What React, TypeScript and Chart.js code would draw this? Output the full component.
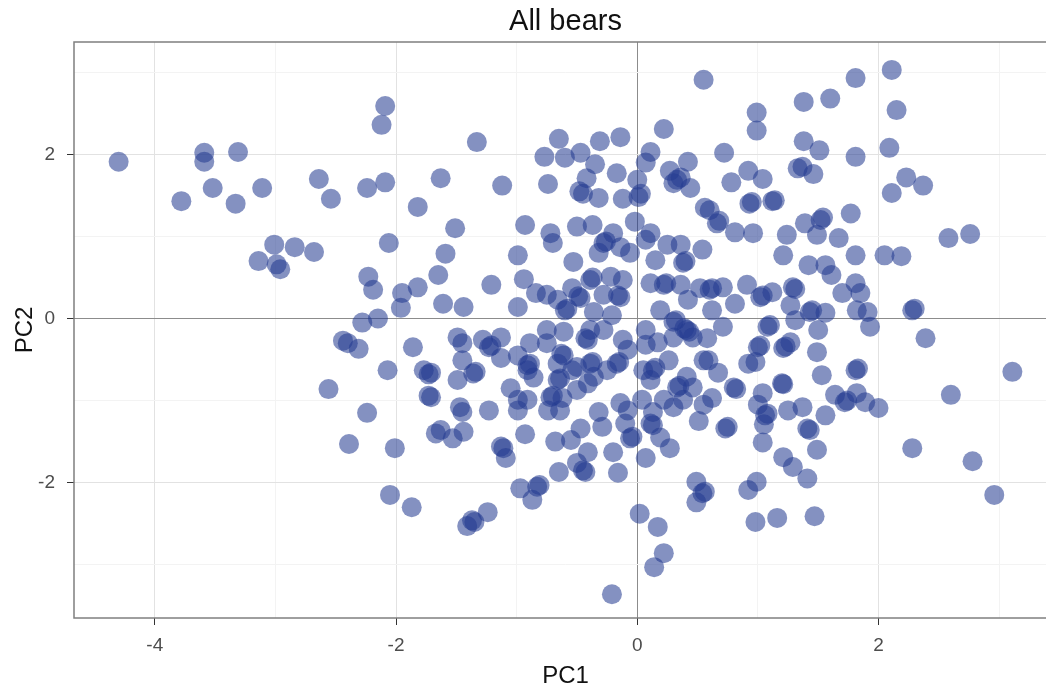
import { useEffect, useRef } from "react";
import { Chart, registerables } from "chart.js";

Chart.register(...registerables);

// ---- labels ----
const chartTitle = "All bears";
const xAxisTitle = "PC1";
const yAxisTitle = "PC2";
const xLabelTicks = [-4, -2, 0, 2];
const yLabelTicks = [-2, 0, 2];
const xRange = [-4.67, 3.48];
const yRange = [-3.65, 3.37];

// ---- PC scores [PC1, PC2], grouped by region of the plot ----
const westScores: [number, number][] = [
  [-4.30, 1.91], [-3.59, 2.02], [-3.59, 1.91], [-3.31, 2.03], [-3.78, 1.43], [-3.52, 1.59],
  [-3.33, 1.40], [-3.11, 1.59], [-2.64, 1.70], [-2.54, 1.46], [-2.24, 1.59], [-2.09, 1.66],
  [-2.09, 2.59], [-2.12, 2.36], [-3.01, 0.90], [-2.84, 0.87], [-2.68, 0.81], [-3.14, 0.70],
  [-2.99, 0.66], [-2.96, 0.60], [-2.06, 0.92], [-2.23, 0.51], [-2.19, 0.35], [-2.28, -0.05],
  [-2.15, 0.00], [-2.44, -0.27], [-2.40, -0.30], [-2.31, -0.37], [-2.07, -0.63], [-2.56, -0.86],
  [-2.24, -1.15], [-2.39, -1.53], [-2.01, -1.58], [-2.05, -2.15],
];

const northScores: [number, number][] = [
  [0.55, 2.91], [0.22, 2.31], [-1.33, 2.15], [-1.63, 1.71], [-1.82, 1.36], [-1.12, 1.62],
  [-1.51, 1.10], [-0.93, 1.14], [-0.65, 2.19], [-0.31, 2.16], [-0.14, 2.21], [-0.77, 1.97],
  [-0.60, 1.96], [-0.47, 2.02], [-0.35, 1.88], [-0.17, 1.77], [-0.74, 1.64], [-0.42, 1.71],
  [-0.45, 1.52], [-0.48, 1.55], [-0.32, 1.47], [-0.12, 1.46], [0.00, 1.69], [0.03, 1.52],
  [0.01, 1.48], [0.11, 2.03], [0.07, 1.90], [0.27, 1.80], [0.33, 1.69], [0.30, 1.65],
  [0.36, 1.72], [0.42, 1.91], [0.44, 1.59], [0.56, 1.35], [-0.02, 1.18], [-0.50, 1.12],
  [-0.37, 1.14], [-0.20, 1.04], [0.11, 1.04], [-0.72, 1.04],
];

const northEastScores: [number, number][] = [
  [2.11, 3.03], [1.81, 2.93], [1.38, 2.64], [1.60, 2.68], [0.99, 2.51], [0.99, 2.29],
  [2.15, 2.54], [0.72, 2.02], [1.38, 2.16], [1.51, 2.05], [1.81, 1.97], [2.09, 2.08],
  [1.37, 1.85], [1.33, 1.83], [1.46, 1.76], [0.92, 1.80], [0.78, 1.66], [1.04, 1.70],
  [0.93, 1.40], [0.95, 1.42], [1.12, 1.43], [1.14, 1.44], [1.77, 1.28], [2.23, 1.72],
  [2.37, 1.62], [2.11, 1.53], [1.39, 1.16], [1.54, 1.23], [1.52, 1.20], [0.60, 1.32],
  [0.66, 1.16], [0.68, 1.19], [0.81, 1.05], [0.96, 1.04],
];

const eastScores: [number, number][] = [
  [2.58, 0.98], [2.76, 1.03], [2.05, 0.77], [2.19, 0.76], [2.28, 0.10], [2.30, 0.12],
  [2.39, -0.24], [3.11, -0.65], [2.60, -0.93], [1.81, 0.77], [1.67, 0.98], [1.49, 1.02],
  [1.24, 1.02], [1.21, 0.77], [1.42, 0.65], [1.56, 0.65], [1.61, 0.53], [1.81, 0.43],
  [1.70, 0.31], [1.85, 0.31], [1.82, 0.10], [1.91, 0.08], [1.93, -0.10], [1.56, 0.07],
  [1.43, 0.08], [1.45, 0.10], [1.50, -0.14], [1.29, 0.38], [1.31, 0.36], [1.12, 0.32],
  [1.02, 0.26], [1.04, 0.28], [0.91, 0.41], [0.81, 0.18], [0.71, 0.38], [0.60, 0.35],
  [0.62, 0.37], [0.62, 0.10], [0.71, -0.10], [1.27, 0.16], [1.08, -0.10], [1.10, -0.08],
  [1.31, -0.02], [1.27, -0.29], [1.21, -0.36], [1.23, -0.34], [1.00, -0.35], [1.02, -0.33],
  [0.98, -0.53], [0.92, -0.55], [1.49, -0.41], [1.53, -0.69], [1.81, -0.63], [1.83, -0.61],
  [1.20, -0.79], [1.21, -0.80], [1.04, -0.91], [0.80, -0.84], [0.82, -0.86], [0.67, -0.66],
  [0.59, -0.51], [0.58, -0.24], [0.62, -0.97], [1.64, -0.93], [1.72, -1.02], [1.74, -1.00],
  [1.82, -0.91], [1.89, -1.02], [2.00, -1.09], [1.25, -1.12], [1.37, -1.08], [1.56, -1.18],
  [1.06, -1.18], [1.08, -1.16], [1.00, -1.05],
];

const southEastScores: [number, number][] = [
  [0.73, -1.34], [0.75, -1.32], [1.04, -1.51], [1.05, -1.29], [1.21, -1.69], [1.29, -1.81],
  [1.41, -1.95], [1.49, -1.60], [1.41, -1.34], [1.43, -1.36], [0.99, -1.99], [0.92, -2.09],
  [0.98, -2.48], [1.16, -2.43], [1.47, -2.41], [2.28, -1.58], [2.78, -1.74], [2.96, -2.15],
];

const southScores: [number, number][] = [
  [-1.87, -2.30], [-1.63, -1.36], [-1.67, -1.40], [-1.53, -1.46], [-1.44, -1.38], [-1.11, -1.58],
  [-1.13, -1.56], [-1.09, -1.70], [-0.93, -1.41], [-1.41, -2.53], [-1.37, -2.46], [-1.35, -2.48],
  [-1.24, -2.36], [-0.97, -2.07], [-0.83, -2.05], [-0.81, -2.03], [-0.87, -2.21], [-0.68, -1.50],
  [-0.55, -1.48], [-0.65, -1.87], [-0.50, -1.76], [-0.43, -1.87], [-0.45, -1.85], [-0.41, -1.63],
  [-0.47, -1.34], [-0.29, -1.32], [-0.20, -1.63], [-0.16, -1.88], [-0.06, -1.46], [-0.04, -1.44],
  [-0.10, -1.28], [0.11, -1.28], [0.13, -1.30], [0.19, -1.45], [0.27, -1.58], [0.07, -1.70],
  [0.51, -1.25], [0.49, -1.99], [0.54, -2.13], [0.56, -2.11], [0.49, -2.24], [0.02, -2.38],
  [0.17, -2.54], [0.22, -2.86], [0.14, -3.03], [-0.21, -3.36],
];

const centreScores: [number, number][] = [
  [-1.59, 0.79], [-1.65, 0.53], [-1.82, 0.38], [-1.95, 0.31], [-1.96, 0.13], [-1.61, 0.18],
  [-1.44, 0.14], [-1.21, 0.41], [-0.99, 0.77], [-0.94, 0.48], [-0.99, 0.14], [-0.84, 0.31],
  [-0.75, 0.29], [-0.66, 0.23], [-0.70, 0.92], [-0.53, 0.69], [-0.28, 0.92], [-0.26, 0.94],
  [-0.14, 0.87], [-0.06, 0.80], [-0.32, 0.80], [-0.39, 0.47], [-0.37, 0.50], [-0.47, 0.25],
  [-0.49, 0.27], [-0.54, 0.37], [-0.22, 0.51], [-0.12, 0.47], [-0.14, 0.26], [-0.16, 0.28],
  [-0.28, 0.29], [-0.60, 0.10], [-0.58, 0.12], [-0.36, 0.08], [-0.21, 0.04], [0.07, 0.96],
  [0.25, 0.90], [0.36, 0.90], [0.15, 0.71], [0.38, 0.68], [0.40, 0.70], [0.54, 0.84],
  [0.11, 0.43], [0.22, 0.41], [0.24, 0.43], [0.36, 0.41], [0.52, 0.37], [0.42, 0.23],
  [0.19, 0.10], [0.30, -0.04], [0.32, -0.02], [0.41, -0.14], [0.39, -0.12], [0.43, -0.16],
  [0.46, -0.23], [0.30, -0.23], [0.07, -0.14], [0.07, -0.32], [0.17, -0.29], [0.55, -0.51],
  [0.26, -0.51], [0.13, -0.63], [0.15, -0.60], [0.05, -0.63], [0.11, -0.75], [0.41, -0.71],
  [0.46, -0.84], [0.33, -0.84], [0.35, -0.82], [0.22, -0.99], [0.30, -1.08], [0.38, -0.99],
  [0.13, -1.14], [0.04, -0.99], [0.55, -1.05], [-0.08, -1.12], [-0.14, -1.03], [-0.32, -1.14],
  [-0.12, -0.26], [-0.08, -0.38], [-0.17, -0.55], [-0.15, -0.53], [-0.25, -0.63], [-0.39, -0.55],
  [-0.37, -0.53], [-0.36, -0.71], [-0.50, -0.59], [-0.41, -0.79], [-0.41, -0.26], [-0.43, -0.24],
  [-0.39, -0.14], [-0.28, -0.14], [-0.61, -0.16], [-0.75, -0.14], [-0.75, -0.30], [-0.61, -0.45],
  [-0.63, -0.43], [-0.66, -0.55], [-0.54, -0.63], [-0.66, -0.75], [-0.64, -0.73], [-0.72, -0.96],
  [-0.70, -0.94], [-0.62, -0.97], [-0.64, -1.12], [-0.74, -1.12], [-0.50, -0.87], [-0.89, -0.55],
  [-0.91, -0.57], [-0.91, -0.63], [-0.99, -0.45], [-0.89, -0.30], [-1.13, -0.23], [-1.23, -0.35],
  [-1.21, -0.33], [-1.13, -0.48], [-1.28, -0.26], [-1.49, -0.23], [-1.45, -0.30], [-1.86, -0.35],
  [-1.77, -0.63], [-1.71, -0.66], [-1.73, -0.68], [-1.45, -0.51], [-1.49, -0.75], [-1.34, -0.65],
  [-1.36, -0.67], [-1.71, -0.96], [-1.73, -0.94], [-1.47, -1.08], [-1.45, -1.14], [-1.23, -1.12],
  [-1.05, -0.85], [-0.99, -0.99], [-0.99, -1.12], [-0.86, -0.72], [-0.91, -0.99],
];

const allScores = [
  ...westScores,
  ...northScores,
  ...northEastScores,
  ...eastScores,
  ...southEastScores,
  ...southScores,
  ...centreScores,
];

const FONT = "'Liberation Sans', Arial, Helvetica, sans-serif";
// The reference panel runs past the right edge of the 1046px picture,
// so the canvas is drawn a little wider and clipped by its container.
const CANVAS_W = 1067;
const CANVAS_H = 686;

const panelBorder = {
  id: "panelBorder",
  afterDatasetsDraw(chart: any) {
    const { ctx, chartArea } = chart;
    ctx.save();
    ctx.strokeStyle = "#7f7f7f";
    ctx.lineWidth = 1.5;
    ctx.strokeRect(chartArea.left, chartArea.top, chartArea.right - chartArea.left, chartArea.bottom - chartArea.top);
    ctx.restore();
  },
};

function gridColor(value: number) {
  if (value === 0) return "#8c8c8c";
  if (Math.abs(value) % 2 === 0) return "#e2e2e2";
  return "#f3f3f3";
}

export default function App() {
  const canvasRef = useRef<HTMLCanvasElement | null>(null);

  useEffect(() => {
    document.body.style.margin = "0";
    const canvas = canvasRef.current;
    if (!canvas) return;
    const chart = new Chart(canvas, {
      type: "scatter",
      data: {
        datasets: [
          {
            label: chartTitle,
            data: allScores.map(([x, y]) => ({ x, y })),
            backgroundColor: "rgba(35, 58, 145, 0.56)",
            borderWidth: 0,
            pointRadius: 10,
            pointHoverRadius: 10,
          },
        ],
      },
      options: {
        responsive: false,
        animation: false,
        devicePixelRatio: 1,
        layout: { padding: { left: 0, right: 3, top: 0, bottom: 0 } },
        plugins: {
          legend: { display: false },
          tooltip: { enabled: false },
          title: {
            display: true,
            text: chartTitle,
            fullSize: false,
            color: "#111",
            font: { family: FONT, size: 29, weight: "normal", lineHeight: 1.2 },
            padding: { top: 4.6, bottom: 2.6 },
          },
        },
        scales: {
          x: {
            type: "linear",
            min: xRange[0],
            max: xRange[1],
            afterFit: (s: any) => {
              s.height = 68;
            },
            border: { display: false },
            grid: {
              color: (c: any) => gridColor(c.tick.value),
              tickColor: (c: any) => (xLabelTicks.includes(c.tick.value) ? "#333" : "rgba(0,0,0,0)"),
              tickLength: 7,
              lineWidth: 1,
            },
            ticks: {
              stepSize: 1,
              includeBounds: false,
              autoSkip: false,
              maxRotation: 0,
              padding: 9,
              color: "#4d4d4d",
              font: { family: FONT, size: 19 },
              callback: (v: any) => (xLabelTicks.includes(Number(v)) ? String(v) : ""),
            },
            title: {
              display: true,
              text: xAxisTitle,
              color: "#111",
              font: { family: FONT, size: 24, lineHeight: 1 },
              padding: { top: 0, bottom: -2 },
            },
          },
          y: {
            type: "linear",
            min: yRange[0],
            max: yRange[1],
            afterFit: (s: any) => {
              s.width = 74;
            },
            border: { display: false },
            grid: {
              color: (c: any) => gridColor(c.tick.value),
              tickColor: (c: any) => (yLabelTicks.includes(c.tick.value) ? "#333" : "rgba(0,0,0,0)"),
              tickLength: 7,
              lineWidth: 1,
            },
            ticks: {
              stepSize: 1,
              includeBounds: false,
              autoSkip: false,
              padding: 12,
              color: "#4d4d4d",
              font: { family: FONT, size: 19 },
              callback: (v: any) => (yLabelTicks.includes(Number(v)) ? String(v) : ""),
            },
            title: {
              display: true,
              text: yAxisTitle,
              color: "#111",
              font: { family: FONT, size: 24, lineHeight: 1 },
              padding: { top: 13, bottom: 0 },
            },
          },
        },
      },
      plugins: [panelBorder],
    });
    return () => chart.destroy();
  }, []);

  return (
    <div style={{ position: "absolute", left: 0, top: 0, width: 1046, height: 686, background: "#fff", overflow: "hidden" }}>
      <canvas
        ref={canvasRef}
        width={CANVAS_W}
        height={CANVAS_H}
        style={{ display: "block", width: CANVAS_W, height: CANVAS_H }}
      />
    </div>
  );
}
